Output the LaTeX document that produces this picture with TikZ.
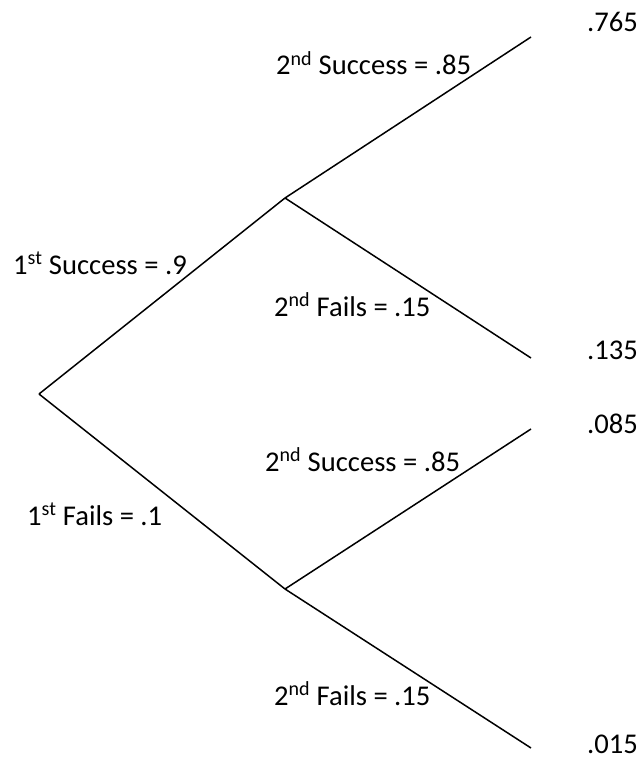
\documentclass[tikz,border=0pt]{standalone}
\usepackage{fontspec}
\setmainfont{Carlito}
\begin{document}
\begin{tikzpicture}[x=1pt,y=-1pt,
  branch/.style={line width=1.5pt},
  lbl/.style={anchor=base west, inner sep=0pt, font=\fontsize{28.6}{32}\selectfont}]
\useasboundingbox (0,0) rectangle (641,762);
\coordinate (R) at (39,394);
\coordinate (A) at (285,198);
\coordinate (B) at (285,589);
\coordinate (A1) at (531,37);
\coordinate (A2) at (531,358);
\coordinate (B1) at (531,429);
\coordinate (B2) at (531,748);
\draw[branch] (R) -- (A);
\draw[branch] (R) -- (B);
\draw[branch] (A) -- (A1);
\draw[branch] (A) -- (A2);
\draw[branch] (B) -- (B1);
\draw[branch] (B) -- (B2);
\node[lbl] (l1) at (276,75) {2\textsuperscript{nd} Success = .85};
\node[lbl] (l2) at (13,274) {1\textsuperscript{st} Success = .9};
\node[lbl] (l3) at (274,316) {2\textsuperscript{nd} Fails = .15};
\node[lbl] (l4) at (265,471) {2\textsuperscript{nd} Success = .85};
\node[lbl] (l5) at (27,525) {1\textsuperscript{st} Fails = .1};
\node[lbl] (l6) at (274,705) {2\textsuperscript{nd} Fails = .15};
\node[lbl] (p1) at (587,32) {.765};
\node[lbl] (p2) at (587,359) {.135};
\node[lbl] (p3) at (587,433) {.085};
\node[lbl] (p4) at (587,753) {.015};
\end{tikzpicture}
\end{document}
